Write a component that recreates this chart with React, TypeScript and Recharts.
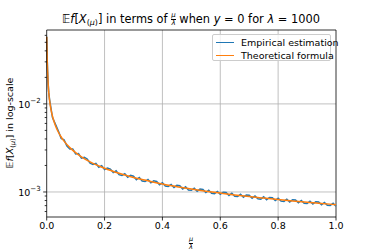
import React from 'react';
import { LineChart, Line, XAxis, YAxis, ReferenceLine } from 'recharts';

const LAMBDA = 1000;

// Theoretical formula (smooth curve), mu values and E f[X_(mu)]
const theoryMu = [0, 1, 2, 3, 5, 7, 10, 15, 20, 30, 40, 50, 60, 80, 100, 120, 150, 200, 250, 300, 350, 400, 450, 500, 550, 600, 650, 700, 750, 800, 850, 900, 950, 1000];
const theoryValue = [0.058, 0.042, 0.030, 0.024, 0.017, 0.0135, 0.0109, 0.00856, 0.00723, 0.00569, 0.0048, 0.00421, 0.00378, 0.00319, 0.0028, 0.00251, 0.0022, 0.00186, 0.00163, 0.00146, 0.00134, 0.00123, 0.00115, 0.00108, 0.00102, 0.000972, 0.000927, 0.000887, 0.000852, 0.00082, 0.000791, 0.000765, 0.000741, 0.000718];

// Empirical estimation (noisy), mu values and values in units of 1e-3
const empiricalMu = [0, 1, 2, 3, 5, 7,
  10, 20, 30, 40, 50, 60, 70, 80, 90, 100,
  110, 120, 130, 140, 150, 160, 170, 180, 190, 200,
  210, 220, 230, 240, 250, 260, 270, 280, 290, 300,
  310, 320, 330, 340, 350, 360, 370, 380, 390, 400,
  410, 420, 430, 440, 450, 460, 470, 480, 490, 500,
  510, 520, 530, 540, 550, 560, 570, 580, 590, 600,
  610, 620, 630, 640, 650, 660, 670, 680, 690, 700,
  710, 720, 730, 740, 750, 760, 770, 780, 790, 800,
  810, 820, 830, 840, 850, 860, 870, 880, 890, 900,
  910, 920, 930, 940, 950, 960, 970, 980, 990, 1000];
const empiricalMilli = [58, 42, 30, 24, 17.2, 13.5,
  11.2, 6.98, 5.89, 4.95, 4.06, 3.91, 3.33, 3.08, 3.08, 2.70,
  2.73, 2.42, 2.48, 2.37, 2.12, 2.05, 2.11, 1.91, 1.99, 1.80,
  1.87, 1.82, 1.66, 1.74, 1.575, 1.54, 1.61, 1.47, 1.545, 1.51,
  1.38, 1.46, 1.33, 1.315, 1.385, 1.27, 1.34, 1.315, 1.21, 1.27,
  1.17, 1.155, 1.22, 1.125, 1.19, 1.175, 1.08, 1.145, 1.055, 1.045,
  1.105, 1.02, 1.08, 1.068, 0.985, 1.045, 0.965, 0.957, 1.015, 0.94,
  0.995, 0.985, 0.913, 0.968, 0.895, 0.888, 0.942, 0.873, 0.925, 0.917,
  0.85, 0.902, 0.837, 0.83, 0.881, 0.817, 0.867, 0.861, 0.799, 0.848,
  0.787, 0.781, 0.829, 0.771, 0.818, 0.812, 0.754, 0.801, 0.744, 0.74,
  0.786, 0.73, 0.775, 0.771, 0.716, 0.761, 0.708, 0.703, 0.747, 0.69];

const xTicks = [0, 0.2, 0.4, 0.6, 0.8, 1.0];
const xGrid = [0.2, 0.4, 0.6, 0.8];
const yMajorTicks = [0.001, 0.01];
const yMajorExponents = ['\u22123', '\u22122'];
const yMinorTicks = [0.0006, 0.0007, 0.0008, 0.0009, 0.002, 0.003, 0.004, 0.005, 0.006, 0.007, 0.008, 0.009, 0.02, 0.03, 0.04, 0.05, 0.06];
const yDomain = [0.00052, 0.069];

const seriesNames = ['Empirical estimation', 'Theoretical formula'];
const BLUE = '#1f77b4';
const ORANGE = '#ff7f0e';
const FONT = "'DejaVu Sans', sans-serif";

const theoryData = theoryMu.map((m, i) => ({ x: m / LAMBDA, y: theoryValue[i] }));
const empiricalData = empiricalMu.map((m, i) => ({ x: m / LAMBDA, y: empiricalMilli[i] / 1000 }));

const YTick = (props: any) => {
  const { x, y, payload } = props;
  const v = payload.value;
  const idx = yMajorTicks.findIndex((t) => Math.abs(t - v) / t < 1e-6);
  const major = idx >= 0;
  return (
    <g>
      <line x1={x} x2={x - (major ? 3.5 : 2)} y1={y} y2={y} stroke="#000" strokeWidth={0.8} />
      {major && (
        <text x={x - 6} y={y + 4} textAnchor="end" fontSize={9.5} fontFamily={FONT} fill="#000">
          10
          <tspan dy={-5} fontSize={7}>{yMajorExponents[idx]}</tspan>
        </text>
      )}
    </g>
  );
};

const Frac = ({ size }: { size: number }) => (
  <span style={{ display: 'inline-flex', flexDirection: 'column', alignItems: 'center', fontSize: size, lineHeight: 1, verticalAlign: 'middle', fontStyle: 'italic' }}>
    <span>μ</span>
    <span style={{ borderTop: '0.6px solid #000', width: '100%', textAlign: 'center' }}>λ</span>
  </span>
);

const EfX = () => (
  <>
    <span>𝔼</span>
    <i>f</i>[<i>X</i>
    <span style={{ fontSize: '0.7em', position: 'relative', top: '0.25em' }}>(<i>μ</i>)</span>]
  </>
);

export default function App() {
  return (
    <div style={{ position: 'absolute', left: 0, top: 0, width: 374, height: 249, background: '#fff', fontFamily: FONT, color: '#000' }}>
      <LineChart width={374} height={249} margin={{ top: 30, right: 38, bottom: 0, left: 0 }}>
        <XAxis
          dataKey="x"
          type="number"
          domain={[0, 1]}
          ticks={xTicks}
          allowDuplicatedCategory={false}
          tickFormatter={(v: number) => v.toFixed(1)}
          height={32}
          tickSize={3.5}
          tickMargin={2}
          axisLine={{ stroke: '#000', strokeWidth: 0.8 }}
          tickLine={{ stroke: '#000', strokeWidth: 0.8 }}
          tick={{ fontSize: 9.5, fontFamily: FONT, fill: '#000' }}
        />
        <YAxis
          type="number"
          scale="log"
          domain={yDomain}
          allowDataOverflow
          ticks={[...yMinorTicks, ...yMajorTicks]}
          width={46.7}
          tickSize={0}
          tickMargin={0}
          tickLine={false}
          axisLine={{ stroke: '#000', strokeWidth: 0.8 }}
          tick={<YTick />}
          interval={0}
        />
        {xGrid.map((g) => (
          <ReferenceLine key={'xg' + g} x={g} stroke="#b0b0b0" strokeWidth={0.8} />
        ))}
        {yMajorTicks.map((g) => (
          <ReferenceLine key={'yg' + g} y={g} stroke="#b0b0b0" strokeWidth={0.8} />
        ))}
        <ReferenceLine x={1} stroke="#000" strokeWidth={0.8} />
        <ReferenceLine y={yDomain[1]} stroke="#000" strokeWidth={0.8} />
        <Line data={empiricalData} dataKey="y" type="linear" stroke={BLUE} strokeWidth={1.5} dot={false} isAnimationActive={false} name={seriesNames[0]} />
        <Line data={theoryData} dataKey="y" type="monotone" stroke={ORANGE} strokeWidth={1.5} dot={false} isAnimationActive={false} name={seriesNames[1]} />
      </LineChart>

      {/* Title */}
      <div style={{ position: 'absolute', left: 0, width: 382, top: 12, textAlign: 'center', fontSize: 11.4, lineHeight: '14px', whiteSpace: 'nowrap' }}>
        <EfX /> in terms of <Frac size={7} /> when <i>y</i> = 0 for <i>λ</i> = 1000
      </div>

      {/* Y label */}
      <div style={{ position: 'absolute', left: 10, top: 123, transform: 'translate(-50%, -50%) rotate(-90deg)', fontSize: 9.5, lineHeight: '12px', whiteSpace: 'nowrap' }}>
        <EfX /> in log-scale
      </div>

      {/* X label */}
      <div style={{ position: 'absolute', left: 191, top: 236, transform: 'translateX(-50%)', fontSize: 7, lineHeight: 1 }}>
        <Frac size={6.5} />
      </div>

      {/* Legend */}
      <div style={{ position: 'absolute', left: 212, top: 34, width: 119, height: 27, border: '0.8px solid #cccccc', borderRadius: 2, background: 'rgba(255,255,255,0.8)', fontSize: 9.5, boxSizing: 'border-box' }}>
        {seriesNames.map((n, i) => (
          <div key={n} style={{ position: 'absolute', left: 3, top: 1 + i * 13, height: 12, display: 'flex', alignItems: 'center', whiteSpace: 'nowrap' }}>
            <span style={{ display: 'inline-block', width: 18, height: 0, borderTop: `1.5px solid ${i === 0 ? BLUE : ORANGE}`, marginRight: 7 }} />
            <span>{n}</span>
          </div>
        ))}
      </div>
    </div>
  );
}
